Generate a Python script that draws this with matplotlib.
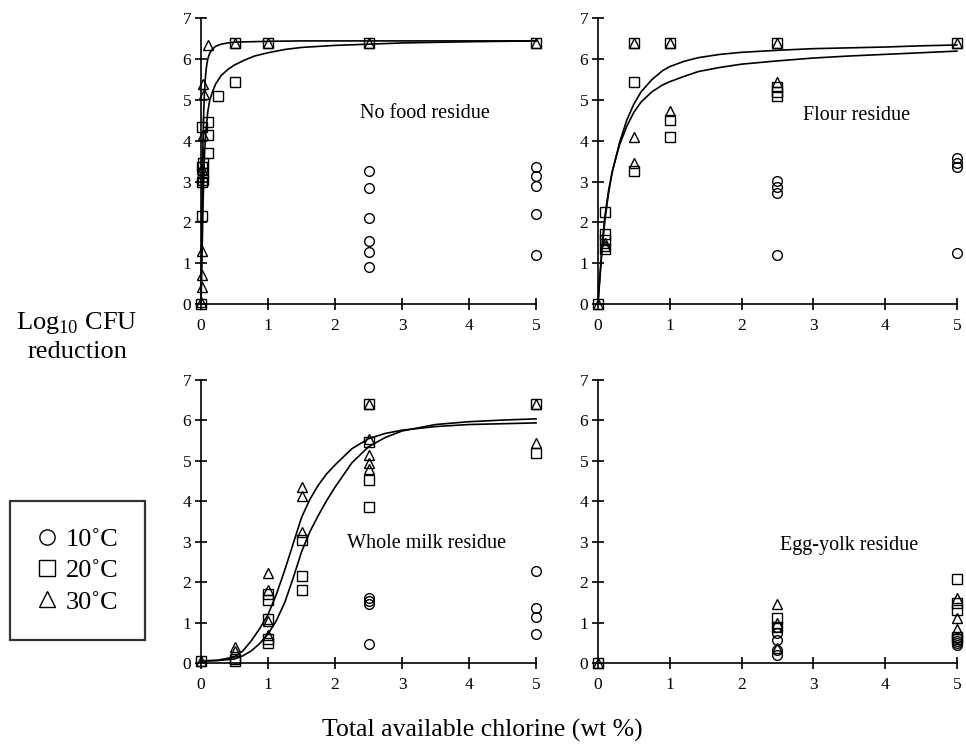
import matplotlib
matplotlib.use("Agg")
import matplotlib.pyplot as plt
from matplotlib.lines import Line2D

plt.rcParams['font.family'] = ['Liberation Serif', 'DejaVu Serif']
plt.rcParams['mathtext.fontset'] = 'custom'
plt.rcParams['mathtext.rm'] = 'Liberation Serif'

# ---- data ----
# panel titles
titulos = ["No food residue", "Flour residue", "Whole milk residue", "Egg-yolk residue"]
temperaturas = ["10˚C", "20˚C", "30˚C"]

# No food residue
nf_c10_x = [2.5, 2.5, 2.5, 2.5, 2.5, 2.5, 5, 5, 5, 5, 5]
nf_c10_y = [3.25, 2.85, 2.1, 1.55, 1.28, 0.9, 3.35, 3.15, 2.9, 2.2, 1.2]
nf_c20_x = [0, 0.02, 0.02, 0.03, 0.03, 0.02, 0.03, 0.02, 0.1, 0.1, 0.1, 0.25, 0.5, 0.5, 1, 2.5, 5]
nf_c20_y = [0, 2.15, 2.98, 3.05, 3.2, 3.35, 3.45, 4.35, 3.7, 4.15, 4.45, 5.1, 5.45, 6.4, 6.4, 6.4, 6.4]
nf_c30_x = [0, 0.01, 0.01, 0.02, 0.02, 0.03, 0.05, 0.03, 0.1, 0.5, 1, 2.5, 5]
nf_c30_y = [0.05, 0.42, 0.7, 1.3, 3.3, 4.15, 5.15, 5.4, 6.35, 6.4, 6.4, 6.4, 6.4]
nf_fit_a_x = [0, 0.005, 0.01, 0.015, 0.02, 0.03, 0.04, 0.05, 0.065, 0.08, 0.1, 0.13, 0.17,
              0.22, 0.3, 0.4, 0.5, 0.75, 1, 1.5, 2, 3, 4, 5]
nf_fit_a_y = [0, 0.8, 1.6, 2.3, 3.0, 4.0, 4.7, 5.15, 5.55, 5.8, 6.0, 6.15, 6.25,
              6.32, 6.37, 6.4, 6.42, 6.43, 6.44, 6.45, 6.45, 6.45, 6.45, 6.45]
nf_fit_b_x = [0, 0.01, 0.02, 0.03, 0.04, 0.05, 0.07, 0.1, 0.13, 0.17, 0.22, 0.3, 0.4, 0.5,
              0.65, 0.8, 1, 1.25, 1.5, 2, 2.5, 3, 4, 5]
nf_fit_b_y = [0, 0.8, 1.6, 2.4, 3.1, 3.6, 4.2, 4.7, 5.0, 5.2, 5.4, 5.6, 5.75, 5.86,
              5.98, 6.08, 6.16, 6.24, 6.29, 6.34, 6.37, 6.4, 6.43, 6.45]

# Flour residue
fl_c10_x = [2.5, 2.5, 2.5, 2.5, 5, 5, 5, 5]
fl_c10_y = [3.02, 2.88, 2.72, 1.2, 3.58, 3.45, 3.35, 1.25]
fl_c20_x = [0, 0.1, 0.1, 0.1, 0.1, 0.5, 0.5, 0.5, 1, 1, 1, 2.5, 2.5, 2.5, 2.5, 5]
fl_c20_y = [0, 2.25, 1.72, 1.57, 1.35, 6.4, 5.45, 3.25, 6.4, 4.5, 4.1, 6.4, 5.33, 5.2, 5.1, 6.4]
fl_c30_x = [0, 0.1, 0.1, 0.5, 0.5, 0.5, 1, 1, 2.5, 2.5, 5]
fl_c30_y = [0, 1.5, 1.42, 6.4, 4.1, 3.45, 6.4, 4.72, 6.4, 5.45, 6.4]
fl_fit_x = [0, 0.03, 0.06, 0.1, 0.15, 0.2, 0.3, 0.4, 0.5, 0.6, 0.75, 0.9, 1, 1.2, 1.4,
            1.7, 2, 2.5, 3, 3.5, 4, 4.5, 5]
fl_fit_a_y = [0, 0.7, 1.4, 2.1, 2.75, 3.25, 3.95, 4.5, 4.9, 5.2, 5.5, 5.72, 5.82, 5.95, 6.04,
              6.12, 6.17, 6.22, 6.26, 6.28, 6.3, 6.33, 6.35]
fl_fit_b_y = [0, 0.75, 1.5, 2.2, 2.8, 3.25, 3.9, 4.35, 4.7, 4.95, 5.2, 5.37, 5.45, 5.58, 5.7,
              5.8, 5.88, 5.96, 6.03, 6.08, 6.12, 6.16, 6.2]

# Whole milk residue
wm_c10_x = [2.5, 2.5, 2.5, 2.5, 5, 5, 5, 5]
wm_c10_y = [1.6, 1.53, 1.47, 0.48, 2.28, 1.35, 1.15, 0.72]
wm_c20_x = [0, 0.5, 0.5, 1, 1, 1, 1, 1, 1.5, 1.5, 1.5, 2.5, 2.5, 2.5, 2.5, 5, 5]
wm_c20_y = [0.05, 0.05, 0.1, 1.7, 1.55, 1.1, 0.6, 0.5, 3.05, 2.15, 1.8, 6.4, 5.48, 4.52, 3.86, 6.4, 5.2]
wm_c30_x = [0, 0.5, 0.5, 1, 1, 1, 1, 1.5, 1.5, 1.5, 2.5, 2.5, 2.5, 2.5, 2.5, 5, 5]
wm_c30_y = [0.05, 0.4, 0.3, 2.22, 1.8, 1.05, 0.7, 4.35, 4.12, 3.25, 6.4, 5.55, 5.15, 4.95, 4.8, 6.4, 5.45]
wm_fit_x = [0, 0.25, 0.5, 0.625, 0.75, 0.875, 1.0, 1.125, 1.25, 1.375, 1.5, 1.625, 1.75,
            1.875, 2.0, 2.25, 2.5, 2.75, 3, 3.5, 4, 4.5, 5]
wm_fit_a_y = [0.05, 0.07, 0.15, 0.3, 0.55, 0.85, 1.2, 1.7, 2.3, 2.95, 3.6, 4.05, 4.4,
              4.68, 4.9, 5.3, 5.55, 5.68, 5.76, 5.85, 5.9, 5.92, 5.94]
wm_fit_b_y = [0.05, 0.06, 0.1, 0.18, 0.3, 0.48, 0.72, 1.05, 1.5, 2.1, 2.75, 3.25, 3.65,
              4.02, 4.35, 4.95, 5.35, 5.58, 5.74, 5.9, 5.97, 6.01, 6.04]

# Egg-yolk residue
ey_c10_x = [2.5, 2.5, 2.5, 2.5, 2.5, 5, 5, 5, 5]
ey_c10_y = [0.9, 0.74, 0.57, 0.32, 0.2, 0.62, 0.55, 0.5, 0.45]
ey_c20_x = [0, 2.5, 2.5, 5, 5, 5, 5, 5]
ey_c20_y = [0, 1.12, 0.88, 2.08, 1.48, 1.3, 0.65, 0.6]
ey_c30_x = [0, 2.5, 2.5, 2.5, 5, 5, 5]
ey_c30_y = [0, 1.45, 1.0, 0.38, 1.6, 1.12, 0.85]

paineis = [
    (titulos[0], (nf_c10_x, nf_c10_y), (nf_c20_x, nf_c20_y), (nf_c30_x, nf_c30_y),
     [(nf_fit_a_x, nf_fit_a_y), (nf_fit_b_x, nf_fit_b_y)]),
    (titulos[1], (fl_c10_x, fl_c10_y), (fl_c20_x, fl_c20_y), (fl_c30_x, fl_c30_y),
     [(fl_fit_x, fl_fit_a_y), (fl_fit_x, fl_fit_b_y)]),
    (titulos[2], (wm_c10_x, wm_c10_y), (wm_c20_x, wm_c20_y), (wm_c30_x, wm_c30_y),
     [(wm_fit_x, wm_fit_a_y), (wm_fit_x, wm_fit_b_y)]),
    (titulos[3], (ey_c10_x, ey_c10_y), (ey_c20_x, ey_c20_y), (ey_c30_x, ey_c30_y), []),
]

# axes rectangles (figure fractions)
posicoes = [
    [0.2081, 0.5936, 0.3468, 0.3817],
    [0.6190, 0.5936, 0.3716, 0.3817],
    [0.2081, 0.1136, 0.3468, 0.3783],
    [0.6190, 0.1136, 0.3716, 0.3783],
]
# title positions in data coords
pos_titulo = [(3.34, 4.66), (3.6, 4.63), (3.37, 2.95), (3.5, 2.9)]

fig = plt.figure(figsize=(9.66, 7.48), dpi=100)
fig.patch.set_facecolor('white')

estilo = dict(ls='none', mfc='none', mec='black', mew=1.0, clip_on=False, zorder=3)

for i, (titulo, c10, c20, c30, curvas) in enumerate(paineis):
    ax = fig.add_axes(posicoes[i])
    for cx, cy in curvas:
        ax.plot(cx, cy, color='black', lw=1.2, clip_on=False, zorder=2)
    ax.plot(c10[0], c10[1], marker='o', ms=7, **estilo)
    ax.plot(c20[0], c20[1], marker='s', ms=7, **estilo)
    ax.plot(c30[0], c30[1], marker='^', ms=7.5, **estilo)

    ax.set_xlim(0, 5)
    ax.set_ylim(0, 7)
    ax.set_xticks(range(6))
    ax.set_yticks(range(8))
    ax.spines['top'].set_visible(False)
    ax.spines['right'].set_visible(False)
    for s in ('left', 'bottom'):
        ax.spines[s].set_linewidth(1.2)
    ax.tick_params(direction='inout', length=8, width=1.2, labelsize=12.5, pad=3)
    ax.tick_params(axis='x', pad=6)
    ax.text(pos_titulo[i][0], pos_titulo[i][1], titulo, fontsize=14.5,
            ha='center', va='center')

# y label
fig.text(0.0797, 0.55, "Log$_{10}$ CFU\nreduction", fontsize=19, ha='center', va='center',
         linespacing=1.25)
# x label
fig.text(0.499, 0.024, "Total available chlorine (wt %)", fontsize=18.5, ha='center', va='center')

# legend
handles = [
    Line2D([], [], marker='o', ls='none', mfc='none', mec='black', ms=11, mew=1.0),
    Line2D([], [], marker='s', ls='none', mfc='none', mec='black', ms=11, mew=1.0),
    Line2D([], [], marker='^', ls='none', mfc='none', mec='black', ms=12, mew=1.0),
]
leg = fig.legend(handles, temperaturas, loc='center', bbox_to_anchor=(0.0802, 0.2373),
                 fontsize=19, frameon=True, fancybox=False, edgecolor='black',
                 handlelength=0.8, handletextpad=0.3, borderpad=1.0, labelspacing=0.3,
                 borderaxespad=0)
leg.get_frame().set_linewidth(1.6)

plt.savefig("out.png", dpi=100, facecolor='white')
plt.close()
